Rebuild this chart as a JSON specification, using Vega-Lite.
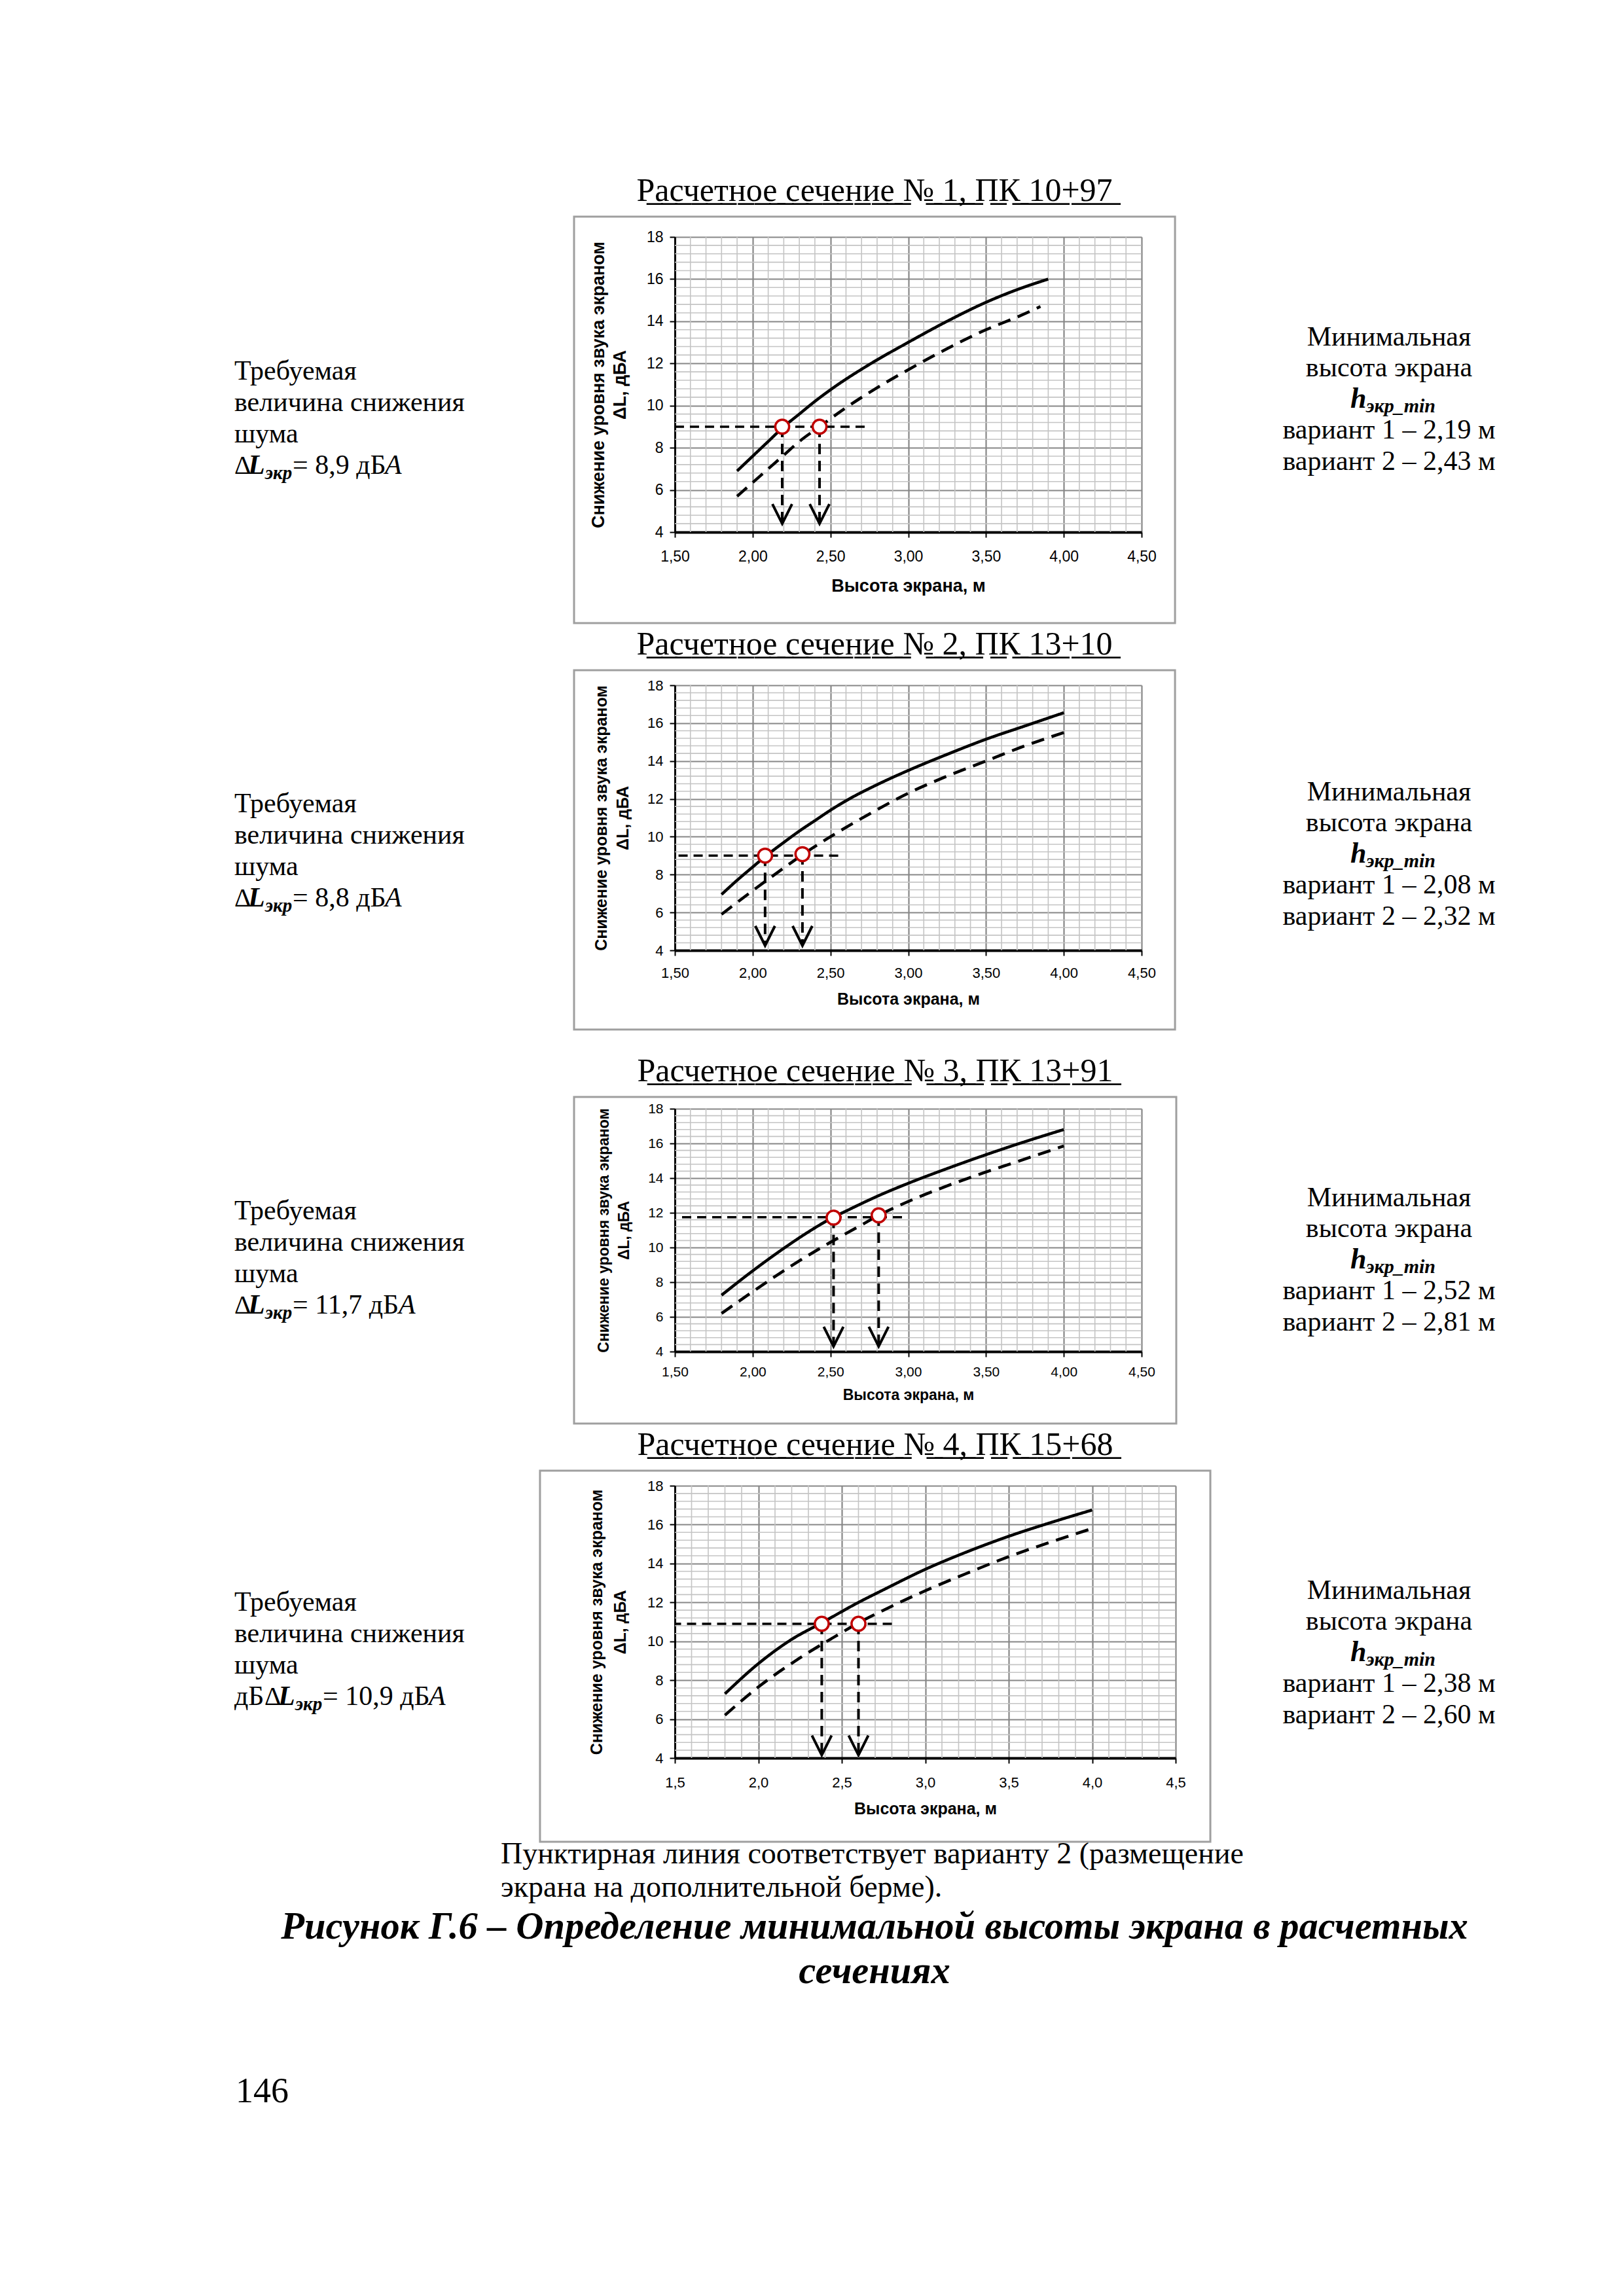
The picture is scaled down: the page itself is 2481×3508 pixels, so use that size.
{
  "$schema": "https://vega.github.io/schema/vega-lite/v6.json",
  "background": "white",
  "padding": {"left": 358, "top": 266, "right": 0, "bottom": 0},
  "config": {"view": {"stroke": null}, "axis": {"labelOverlap": false, "labelBound": false, "labelFlush": false}},
  "datasets": {
    "gridX": [{"g":1.6},{"g":1.7},{"g":1.8},{"g":1.9},{"g":2.1},{"g":2.2},{"g":2.3},{"g":2.4},{"g":2.6},{"g":2.7},{"g":2.8},{"g":2.9},{"g":3.1},{"g":3.2},{"g":3.3},{"g":3.4},{"g":3.6},{"g":3.7},{"g":3.8},{"g":3.9},{"g":4.1},{"g":4.2},{"g":4.3},{"g":4.4}],
    "gridY": [{"g":4.4},{"g":4.8},{"g":5.2},{"g":5.6},{"g":6.4},{"g":6.8},{"g":7.2},{"g":7.6},{"g":8.4},{"g":8.8},{"g":9.2},{"g":9.6},{"g":10.4},{"g":10.8},{"g":11.2},{"g":11.6},{"g":12.4},{"g":12.8},{"g":13.2},{"g":13.6},{"g":14.4},{"g":14.8},{"g":15.2},{"g":15.6},{"g":16.4},{"g":16.8},{"g":17.2},{"g":17.6}],
    "curves": [
      {"sec":1,"variant":1,"h":1.9,"dL":6.9},{"sec":1,"variant":1,"h":2.0,"dL":7.6},{"sec":1,"variant":1,"h":2.1,"dL":8.3},{"sec":1,"variant":1,"h":2.2,"dL":9.0},{"sec":1,"variant":1,"h":2.3,"dL":9.6},{"sec":1,"variant":1,"h":2.4,"dL":10.2},{"sec":1,"variant":1,"h":2.5,"dL":10.75},{"sec":1,"variant":1,"h":2.75,"dL":11.95},{"sec":1,"variant":1,"h":3.0,"dL":13.0},{"sec":1,"variant":1,"h":3.25,"dL":14.0},{"sec":1,"variant":1,"h":3.5,"dL":14.9},{"sec":1,"variant":1,"h":3.7,"dL":15.5},{"sec":1,"variant":1,"h":3.9,"dL":16.0},
      {"sec":1,"variant":2,"h":1.9,"dL":5.7},{"sec":1,"variant":2,"h":2.0,"dL":6.35},{"sec":1,"variant":2,"h":2.1,"dL":7.0},{"sec":1,"variant":2,"h":2.2,"dL":7.65},{"sec":1,"variant":2,"h":2.3,"dL":8.3},{"sec":1,"variant":2,"h":2.43,"dL":9.0},{"sec":1,"variant":2,"h":2.6,"dL":9.9},{"sec":1,"variant":2,"h":2.8,"dL":10.85},{"sec":1,"variant":2,"h":3.0,"dL":11.7},{"sec":1,"variant":2,"h":3.25,"dL":12.7},{"sec":1,"variant":2,"h":3.5,"dL":13.6},{"sec":1,"variant":2,"h":3.7,"dL":14.2},{"sec":1,"variant":2,"h":3.85,"dL":14.7},
      {"sec":2,"variant":1,"h":1.8,"dL":6.95},{"sec":2,"variant":1,"h":1.9,"dL":7.7},{"sec":2,"variant":1,"h":2.0,"dL":8.4},{"sec":2,"variant":1,"h":2.08,"dL":8.95},{"sec":2,"variant":1,"h":2.2,"dL":9.7},{"sec":2,"variant":1,"h":2.3,"dL":10.3},{"sec":2,"variant":1,"h":2.4,"dL":10.85},{"sec":2,"variant":1,"h":2.5,"dL":11.4},{"sec":2,"variant":1,"h":2.6,"dL":11.9},{"sec":2,"variant":1,"h":2.8,"dL":12.75},{"sec":2,"variant":1,"h":3.0,"dL":13.5},{"sec":2,"variant":1,"h":3.25,"dL":14.35},{"sec":2,"variant":1,"h":3.5,"dL":15.15},{"sec":2,"variant":1,"h":3.75,"dL":15.85},{"sec":2,"variant":1,"h":4.0,"dL":16.55},
      {"sec":2,"variant":2,"h":1.8,"dL":5.9},{"sec":2,"variant":2,"h":2.0,"dL":7.15},{"sec":2,"variant":2,"h":2.2,"dL":8.35},{"sec":2,"variant":2,"h":2.32,"dL":9.05},{"sec":2,"variant":2,"h":2.5,"dL":10.0},{"sec":2,"variant":2,"h":2.75,"dL":11.2},{"sec":2,"variant":2,"h":3.0,"dL":12.3},{"sec":2,"variant":2,"h":3.25,"dL":13.2},{"sec":2,"variant":2,"h":3.5,"dL":14.0},{"sec":2,"variant":2,"h":3.75,"dL":14.8},{"sec":2,"variant":2,"h":4.0,"dL":15.5},
      {"sec":3,"variant":1,"h":1.8,"dL":7.25},{"sec":3,"variant":1,"h":2.0,"dL":8.65},{"sec":3,"variant":1,"h":2.2,"dL":9.95},{"sec":3,"variant":1,"h":2.35,"dL":10.85},{"sec":3,"variant":1,"h":2.52,"dL":11.75},{"sec":3,"variant":1,"h":2.6,"dL":12.1},{"sec":3,"variant":1,"h":2.8,"dL":12.95},{"sec":3,"variant":1,"h":3.0,"dL":13.7},{"sec":3,"variant":1,"h":3.25,"dL":14.55},{"sec":3,"variant":1,"h":3.5,"dL":15.35},{"sec":3,"variant":1,"h":3.75,"dL":16.1},{"sec":3,"variant":1,"h":4.0,"dL":16.8},
      {"sec":3,"variant":2,"h":1.8,"dL":6.2},{"sec":3,"variant":2,"h":2.0,"dL":7.45},{"sec":3,"variant":2,"h":2.25,"dL":8.95},{"sec":3,"variant":2,"h":2.5,"dL":10.3},{"sec":3,"variant":2,"h":2.7,"dL":11.3},{"sec":3,"variant":2,"h":2.81,"dL":11.85},{"sec":3,"variant":2,"h":3.0,"dL":12.65},{"sec":3,"variant":2,"h":3.25,"dL":13.55},{"sec":3,"variant":2,"h":3.5,"dL":14.35},{"sec":3,"variant":2,"h":3.75,"dL":15.1},{"sec":3,"variant":2,"h":4.0,"dL":15.85},
      {"sec":4,"variant":1,"h":1.8,"dL":7.3},{"sec":4,"variant":1,"h":2.0,"dL":8.85},{"sec":4,"variant":1,"h":2.2,"dL":10.1},{"sec":4,"variant":1,"h":2.38,"dL":10.95},{"sec":4,"variant":1,"h":2.6,"dL":12.0},{"sec":4,"variant":1,"h":2.75,"dL":12.65},{"sec":4,"variant":1,"h":3.0,"dL":13.7},{"sec":4,"variant":1,"h":3.25,"dL":14.6},{"sec":4,"variant":1,"h":3.5,"dL":15.4},{"sec":4,"variant":1,"h":3.75,"dL":16.1},{"sec":4,"variant":1,"h":4.0,"dL":16.75},
      {"sec":4,"variant":2,"h":1.8,"dL":6.2},{"sec":4,"variant":2,"h":2.0,"dL":7.65},{"sec":4,"variant":2,"h":2.25,"dL":9.15},{"sec":4,"variant":2,"h":2.5,"dL":10.45},{"sec":4,"variant":2,"h":2.6,"dL":10.95},{"sec":4,"variant":2,"h":2.75,"dL":11.6},{"sec":4,"variant":2,"h":3.0,"dL":12.6},{"sec":4,"variant":2,"h":3.25,"dL":13.5},{"sec":4,"variant":2,"h":3.5,"dL":14.35},{"sec":4,"variant":2,"h":3.75,"dL":15.1},{"sec":4,"variant":2,"h":4.0,"dL":15.8}
    ],
    "points": [
      {"sec":1,"variant":1,"h":2.19,"dL":9.0,"tip":4.4},{"sec":1,"variant":2,"h":2.43,"dL":9.0,"tip":4.4},
      {"sec":2,"variant":1,"h":2.08,"dL":9.0,"tip":4.25},{"sec":2,"variant":2,"h":2.32,"dL":9.08,"tip":4.25},
      {"sec":3,"variant":1,"h":2.52,"dL":11.72,"tip":4.3},{"sec":3,"variant":2,"h":2.81,"dL":11.85,"tip":4.3},
      {"sec":4,"variant":1,"h":2.38,"dL":10.9,"tip":4.15},{"sec":4,"variant":2,"h":2.6,"dL":10.9,"tip":4.15}
    ],
    "levels": [
      {"sec":1,"dL":9.0,"hEnd":2.72},{"sec":2,"dL":9.0,"hEnd":2.55},{"sec":3,"dL":11.75,"hEnd":2.96},{"sec":4,"dL":10.9,"hEnd":2.8}
    ],
    "leftText": [
      {"sec":1,"line":0,"text":"Требуемая"},{"sec":1,"line":1,"text":"величина снижения"},{"sec":1,"line":2,"text":"шума"},
      {"sec":2,"line":0,"text":"Требуемая"},{"sec":2,"line":1,"text":"величина снижения"},{"sec":2,"line":2,"text":"шума"},
      {"sec":3,"line":0,"text":"Требуемая"},{"sec":3,"line":1,"text":"величина снижения"},{"sec":3,"line":2,"text":"шума"},
      {"sec":4,"line":0,"text":"Требуемая"},{"sec":4,"line":1,"text":"величина снижения"},{"sec":4,"line":2,"text":"шума"}
    ],
    "leftFormula": [
      {"sec":1,"line":3,"piece":"delta","text":"Δ"},{"sec":1,"line":3,"piece":"L","text":"L"},{"sec":1,"line":3,"piece":"sub","text":"экр"},{"sec":1,"line":3,"piece":"val","text":"= 8,9 дБ"},{"sec":1,"line":3,"piece":"A","text":"А"},
      {"sec":2,"line":3,"piece":"delta","text":"Δ"},{"sec":2,"line":3,"piece":"L","text":"L"},{"sec":2,"line":3,"piece":"sub","text":"экр"},{"sec":2,"line":3,"piece":"val","text":"= 8,8 дБ"},{"sec":2,"line":3,"piece":"A","text":"А"},
      {"sec":3,"line":3,"piece":"delta","text":"Δ"},{"sec":3,"line":3,"piece":"L","text":"L"},{"sec":3,"line":3,"piece":"sub","text":"экр"},{"sec":3,"line":3,"piece":"val","text":"= 11,7 дБ"},{"sec":3,"line":3,"piece":"A","text":"А"},
      {"sec":4,"line":3,"piece":"pre","text":"дБ"},{"sec":4,"line":3,"piece":"delta","text":"Δ"},{"sec":4,"line":3,"piece":"L","text":"L"},{"sec":4,"line":3,"piece":"sub","text":"экр"},{"sec":4,"line":3,"piece":"val","text":"= 10,9 дБ"},{"sec":4,"line":3,"piece":"A","text":"А"}
    ],
    "rightText": [
      {"sec":1,"line":0,"text":"Минимальная"},{"sec":1,"line":1,"text":"высота экрана"},{"sec":1,"line":3,"text":"вариант 1 – 2,19 м"},{"sec":1,"line":4,"text":"вариант 2 – 2,43 м"},
      {"sec":2,"line":0,"text":"Минимальная"},{"sec":2,"line":1,"text":"высота экрана"},{"sec":2,"line":3,"text":"вариант 1 – 2,08 м"},{"sec":2,"line":4,"text":"вариант 2 – 2,32 м"},
      {"sec":3,"line":0,"text":"Минимальная"},{"sec":3,"line":1,"text":"высота экрана"},{"sec":3,"line":3,"text":"вариант 1 – 2,52 м"},{"sec":3,"line":4,"text":"вариант 2 – 2,81 м"},
      {"sec":4,"line":0,"text":"Минимальная"},{"sec":4,"line":1,"text":"высота экрана"},{"sec":4,"line":3,"text":"вариант 1 – 2,38 м"},{"sec":4,"line":4,"text":"вариант 2 – 2,60 м"}
    ],
    "rightSymbol": [
      {"line":2,"piece":"h","text":"h"},{"line":2,"piece":"sub","text":"экр_min"}
    ],
    "notes": [
      {"id":"n1","text":"Пунктирная линия соответствует варианту 2 (размещение"},
      {"id":"n2","text":"экрана на дополнительной берме)."},
      {"id":"c1","text":"Рисунок Г.6 – Определение минимальной высоты экрана в расчетных"},
      {"id":"c2","text":"сечениях"},
      {"id":"p","text":"146"}
    ]
  },
  "columns": 3,
  "spacing": {"row": 0, "column": 173},
  "bounds": "flush",
  "align": "each",
  "concat": [
    {
      "width": 500, "height": 685,
      "encoding": {
        "x": {"datum": 0, "type": "quantitative", "scale": {"domain": [0, 1]}, "axis": null},
        "y": {"field": "line", "type": "quantitative", "scale": {"domain": [-4.5417, 9.7292], "reverse": true}, "axis": null},
        "text": {"field": "text"}
      },
      "layer": [
        {"data": {"name": "leftText"}, "transform": [{"filter": "datum.sec == 1"}], "mark": {"type": "text", "align": "left", "baseline": "alphabetic", "font": "Liberation Serif", "fontSize": 42, "color": "black"}},
        {"data": {"name": "leftFormula"}, "transform": [{"filter": "datum.sec == 1 && datum.piece == 'delta'"}], "mark": {"type": "text", "align": "left", "baseline": "alphabetic", "font": "Liberation Serif", "fontSize": 40, "color": "black", "dx": 0}},
        {"data": {"name": "leftFormula"}, "transform": [{"filter": "datum.sec == 1 && datum.piece == 'L'"}], "mark": {"type": "text", "align": "left", "baseline": "alphabetic", "font": "Liberation Serif", "fontSize": 42, "fontStyle": "italic", "fontWeight": "bold", "color": "black", "dx": 21}},
        {"data": {"name": "leftFormula"}, "transform": [{"filter": "datum.sec == 1 && datum.piece == 'sub'"}], "mark": {"type": "text", "align": "left", "baseline": "alphabetic", "font": "Liberation Serif", "fontSize": 29, "fontStyle": "italic", "fontWeight": "bold", "color": "black", "dx": 47, "dy": 8}},
        {"data": {"name": "leftFormula"}, "transform": [{"filter": "datum.sec == 1 && datum.piece == 'val'"}], "mark": {"type": "text", "align": "left", "baseline": "alphabetic", "font": "Liberation Serif", "fontSize": 42, "color": "black", "dx": 89}},
        {"data": {"name": "leftFormula"}, "transform": [{"filter": "datum.sec == 1 && datum.piece == 'A'"}], "mark": {"type": "text", "align": "left", "baseline": "alphabetic", "font": "Liberation Serif", "fontSize": 42, "fontStyle": "italic", "color": "black", "dx": 230}}
      ]
    },
    {
      "width": 713, "height": 451,
      "title": {"text": "Р\u0332а\u0332с\u0332ч\u0332е\u0332т\u0332н\u0332о\u0332е\u0332 \u0332с\u0332е\u0332ч\u0332е\u0332н\u0332и\u0332е\u0332 \u0332№\u0332 \u03321\u0332,\u0332 \u0332П\u0332К\u0332 \u03321\u03320\u0332+\u03329\u03327\u0332", "font": "Liberation Serif", "fontSize": 50, "fontWeight": "normal", "color": "black", "anchor": "middle", "frame": "bounds", "offset": -27, "baseline": "alphabetic"},
      "layer": [
        {"data": {"name": "gridX"}, "mark": {"type": "rule", "color": "#c4c4c4", "strokeWidth": 1.6},
         "encoding": {"x": {"field": "g", "type": "quantitative", "scale": {"domain": [1.5, 4.5]}}, "y": {"datum": 4, "type": "quantitative", "scale": {"domain": [4, 18]}}, "y2": {"datum": 18}}},
        {"data": {"name": "gridY"}, "mark": {"type": "rule", "color": "#c4c4c4", "strokeWidth": 1.6},
         "encoding": {"y": {"field": "g", "type": "quantitative", "scale": {"domain": [4, 18]}}, "x": {"datum": 1.5, "type": "quantitative", "scale": {"domain": [1.5, 4.5]}}, "x2": {"datum": 4.5}}},
        {"data": {"name": "curves"}, "transform": [{"filter": "datum.sec == 1"}],
         "mark": {"type": "line", "interpolate": "monotone", "color": "black", "strokeWidth": 4.5},
         "encoding": {
           "x": {"field": "h", "type": "quantitative", "scale": {"domain": [1.5, 4.5]},
             "axis": {"orient": "bottom", "values": [1.5, 2, 2.5, 3, 3.5, 4, 4.5],
               "grid": true, "gridColor": "#878787", "gridWidth": 2.2,
               "domain": true, "domainColor": "black", "domainWidth": 4,
               "ticks": true, "tickColor": "black", "tickWidth": 2, "tickSize": 8,
               "labelExpr": "replace(format(datum.value,'.2f'),'.',',')",
               "labelFontSize": 23, "labelFont": "Liberation Sans Narrow, Liberation Sans, sans-serif", "labelColor": "black", "labelPadding": 18, "labelOverlap": false, "labelFlush": false, "labelBound": false,
               "title": "Высота экрана, м", "titleFont": "Liberation Sans Narrow, Liberation Sans, sans-serif", "titleFontSize": 27, "titleFontWeight": "bold", "titleColor": "black", "titlePadding": 20}},
           "y": {"field": "dL", "type": "quantitative", "scale": {"domain": [4, 18]},
             "axis": {"orient": "left", "values": [4, 6, 8, 10, 12, 14, 16, 18],
               "grid": true, "gridColor": "#878787", "gridWidth": 2.2,
               "gridOpacity": {"condition": {"test": "datum.value < 4.1", "value": 0}, "value": 1},
               "domain": true, "domainColor": "black", "domainWidth": 3,
               "ticks": true, "tickColor": "black", "tickWidth": 2, "tickSize": 8,
               "labelFontSize": 23, "labelFont": "Liberation Sans Narrow, Liberation Sans, sans-serif", "labelColor": "black", "labelPadding": 10, "labelOverlap": false, "labelFlush": false, "labelBound": false,
               "title": ["Снижение уровня звука экраном", "ΔL, дБА"], "titleFont": "Liberation Sans Narrow, Liberation Sans, sans-serif", "titleFontSize": 27, "titleFontWeight": "bold", "titleColor": "black", "titlePadding": 26, "titleLineHeight": 33}},
           "detail": {"field": "variant"},
           "strokeDash": {"field": "variant", "type": "nominal", "scale": {"domain": [1, 2], "range": [[1, 0], [20, 12]]}, "legend": null}
         }},
        {"data": {"values": [{}]}, "mark": {"type": "rect", "fill": "white", "fillOpacity": 0, "stroke": "#9f9f9f", "strokeWidth": 3},
         "encoding": {"x": {"datum": 0.852, "type": "quantitative", "scale": {"domain": [1.5, 4.5]}}, "x2": {"datum": 4.715}, "y": {"datum": 18.962, "type": "quantitative", "scale": {"domain": [4, 18]}}, "y2": {"datum": -0.316}}},
        {"data": {"name": "levels"}, "transform": [{"filter": "datum.sec == 1"}], "mark": {"type": "rule", "color": "black", "strokeWidth": 3.5, "strokeDash": [14, 9]},
         "encoding": {"x": {"field": "hEnd", "type": "quantitative", "scale": {"domain": [1.5, 4.5]}}, "x2": {"datum": 1.5}, "y": {"field": "dL", "type": "quantitative", "scale": {"domain": [4, 18]}}}},
        {"data": {"name": "points"}, "transform": [{"filter": "datum.sec == 1"}], "mark": {"type": "rule", "color": "black", "strokeWidth": 4, "strokeDash": [16, 10]},
         "encoding": {"x": {"field": "h", "type": "quantitative", "scale": {"domain": [1.5, 4.5]}}, "y": {"field": "dL", "type": "quantitative", "scale": {"domain": [4, 18]}}, "y2": {"field": "tip"}}},
        {"data": {"name": "points"}, "transform": [{"filter": "datum.sec == 1"}], "mark": {"type": "point", "shape": "M-1,-2L0,0L1,-2", "size": 900, "filled": false, "color": "black", "stroke": "black", "strokeWidth": 4, "opacity": 1},
         "encoding": {"x": {"field": "h", "type": "quantitative", "scale": {"domain": [1.5, 4.5]}}, "y": {"field": "tip", "type": "quantitative", "scale": {"domain": [4, 18]}}}},
        {"data": {"name": "points"}, "transform": [{"filter": "datum.sec == 1"}], "mark": {"type": "point", "shape": "circle", "size": 450, "filled": true, "fill": "white", "stroke": "#c00000", "strokeWidth": 3.5, "opacity": 1},
         "encoding": {"x": {"field": "h", "type": "quantitative", "scale": {"domain": [1.5, 4.5]}}, "y": {"field": "dL", "type": "quantitative", "scale": {"domain": [4, 18]}}}}
      ]
    },
    {
      "width": 306, "height": 685,
      "encoding": {
        "x": {"datum": 0.5, "type": "quantitative", "scale": {"domain": [0, 1]}, "axis": null},
        "y": {"field": "line", "type": "quantitative", "scale": {"domain": [-3.4863, 10.9347], "reverse": true}, "axis": null},
        "text": {"field": "text"}
      },
      "layer": [
        {"data": {"name": "rightText"}, "transform": [{"filter": "datum.sec == 1"}], "mark": {"type": "text", "align": "center", "baseline": "alphabetic", "font": "Liberation Serif", "fontSize": 42, "color": "black"}},
        {"data": {"name": "rightSymbol"}, "transform": [{"filter": "datum.piece == 'h'"}], "mark": {"type": "text", "align": "left", "baseline": "alphabetic", "font": "Liberation Serif", "fontSize": 44, "fontStyle": "italic", "fontWeight": "bold", "color": "black", "dx": -59}},
        {"data": {"name": "rightSymbol"}, "transform": [{"filter": "datum.piece == 'sub'"}], "mark": {"type": "text", "align": "left", "baseline": "alphabetic", "font": "Liberation Serif", "fontSize": 30, "fontStyle": "italic", "fontWeight": "bold", "color": "black", "dx": -35, "dy": 7}}
      ]
    },
    {
      "width": 500, "height": 647,
      "encoding": {
        "x": {"datum": 0, "type": "quantitative", "scale": {"domain": [0, 1]}, "axis": null},
        "y": {"field": "line", "type": "quantitative", "scale": {"domain": [-4.0417, 9.4375], "reverse": true}, "axis": null},
        "text": {"field": "text"}
      },
      "layer": [
        {"data": {"name": "leftText"}, "transform": [{"filter": "datum.sec == 2"}], "mark": {"type": "text", "align": "left", "baseline": "alphabetic", "font": "Liberation Serif", "fontSize": 42, "color": "black"}},
        {"data": {"name": "leftFormula"}, "transform": [{"filter": "datum.sec == 2 && datum.piece == 'delta'"}], "mark": {"type": "text", "align": "left", "baseline": "alphabetic", "font": "Liberation Serif", "fontSize": 40, "color": "black", "dx": 0}},
        {"data": {"name": "leftFormula"}, "transform": [{"filter": "datum.sec == 2 && datum.piece == 'L'"}], "mark": {"type": "text", "align": "left", "baseline": "alphabetic", "font": "Liberation Serif", "fontSize": 42, "fontStyle": "italic", "fontWeight": "bold", "color": "black", "dx": 21}},
        {"data": {"name": "leftFormula"}, "transform": [{"filter": "datum.sec == 2 && datum.piece == 'sub'"}], "mark": {"type": "text", "align": "left", "baseline": "alphabetic", "font": "Liberation Serif", "fontSize": 29, "fontStyle": "italic", "fontWeight": "bold", "color": "black", "dx": 47, "dy": 8}},
        {"data": {"name": "leftFormula"}, "transform": [{"filter": "datum.sec == 2 && datum.piece == 'val'"}], "mark": {"type": "text", "align": "left", "baseline": "alphabetic", "font": "Liberation Serif", "fontSize": 42, "color": "black", "dx": 89}},
        {"data": {"name": "leftFormula"}, "transform": [{"filter": "datum.sec == 2 && datum.piece == 'A'"}], "mark": {"type": "text", "align": "left", "baseline": "alphabetic", "font": "Liberation Serif", "fontSize": 42, "fontStyle": "italic", "color": "black", "dx": 230}}
      ]
    },
    {
      "width": 713, "height": 405,
      "title": {"text": "Р\u0332а\u0332с\u0332ч\u0332е\u0332т\u0332н\u0332о\u0332е\u0332 \u0332с\u0332е\u0332ч\u0332е\u0332н\u0332и\u0332е\u0332 \u0332№\u0332 \u03322\u0332,\u0332 \u0332П\u0332К\u0332 \u03321\u03323\u0332+\u03321\u03320\u0332", "font": "Liberation Serif", "fontSize": 50, "fontWeight": "normal", "color": "black", "anchor": "middle", "frame": "bounds", "offset": -27, "baseline": "alphabetic"},
      "layer": [
        {"data": {"name": "gridX"}, "mark": {"type": "rule", "color": "#c4c4c4", "strokeWidth": 1.6},
         "encoding": {"x": {"field": "g", "type": "quantitative", "scale": {"domain": [1.5, 4.5]}}, "y": {"datum": 4, "type": "quantitative", "scale": {"domain": [4, 18]}}, "y2": {"datum": 18}}},
        {"data": {"name": "gridY"}, "mark": {"type": "rule", "color": "#c4c4c4", "strokeWidth": 1.6},
         "encoding": {"y": {"field": "g", "type": "quantitative", "scale": {"domain": [4, 18]}}, "x": {"datum": 1.5, "type": "quantitative", "scale": {"domain": [1.5, 4.5]}}, "x2": {"datum": 4.5}}},
        {"data": {"name": "curves"}, "transform": [{"filter": "datum.sec == 2"}],
         "mark": {"type": "line", "interpolate": "monotone", "color": "black", "strokeWidth": 4.5},
         "encoding": {
           "x": {"field": "h", "type": "quantitative", "scale": {"domain": [1.5, 4.5]},
             "axis": {"orient": "bottom", "values": [1.5, 2, 2.5, 3, 3.5, 4, 4.5],
               "grid": true, "gridColor": "#878787", "gridWidth": 2.2,
               "domain": true, "domainColor": "black", "domainWidth": 4,
               "ticks": true, "tickColor": "black", "tickWidth": 2, "tickSize": 8,
               "labelExpr": "replace(format(datum.value,'.2f'),'.',',')",
               "labelFontSize": 22, "labelFont": "Liberation Sans Narrow, Liberation Sans, sans-serif", "labelColor": "black", "labelPadding": 16, "labelOverlap": false, "labelFlush": false, "labelBound": false,
               "title": "Высота экрана, м", "titleFont": "Liberation Sans Narrow, Liberation Sans, sans-serif", "titleFontSize": 25, "titleFontWeight": "bold", "titleColor": "black", "titlePadding": 17}},
           "y": {"field": "dL", "type": "quantitative", "scale": {"domain": [4, 18]},
             "axis": {"orient": "left", "values": [4, 6, 8, 10, 12, 14, 16, 18],
               "grid": true, "gridColor": "#878787", "gridWidth": 2.2,
               "gridOpacity": {"condition": {"test": "datum.value < 4.1", "value": 0}, "value": 1},
               "domain": true, "domainColor": "black", "domainWidth": 3,
               "ticks": true, "tickColor": "black", "tickWidth": 2, "tickSize": 8,
               "labelFontSize": 22, "labelFont": "Liberation Sans Narrow, Liberation Sans, sans-serif", "labelColor": "black", "labelPadding": 10, "labelOverlap": false, "labelFlush": false, "labelBound": false,
               "title": ["Снижение уровня звука экраном", "ΔL, дБА"], "titleFont": "Liberation Sans Narrow, Liberation Sans, sans-serif", "titleFontSize": 25, "titleFontWeight": "bold", "titleColor": "black", "titlePadding": 24, "titleLineHeight": 33}},
           "detail": {"field": "variant"},
           "strokeDash": {"field": "variant", "type": "nominal", "scale": {"domain": [1, 2], "range": [[1, 0], [20, 12]]}, "legend": null}
         }},
        {"data": {"values": [{}]}, "mark": {"type": "rect", "fill": "white", "fillOpacity": 0, "stroke": "#9f9f9f", "strokeWidth": 3},
         "encoding": {"x": {"datum": 0.852, "type": "quantitative", "scale": {"domain": [1.5, 4.5]}}, "x2": {"datum": 4.715}, "y": {"datum": 18.795, "type": "quantitative", "scale": {"domain": [4, 18]}}, "y2": {"datum": -0.183}}},
        {"data": {"name": "levels"}, "transform": [{"filter": "datum.sec == 2"}], "mark": {"type": "rule", "color": "black", "strokeWidth": 3.5, "strokeDash": [14, 9]},
         "encoding": {"x": {"field": "hEnd", "type": "quantitative", "scale": {"domain": [1.5, 4.5]}}, "x2": {"datum": 1.5}, "y": {"field": "dL", "type": "quantitative", "scale": {"domain": [4, 18]}}}},
        {"data": {"name": "points"}, "transform": [{"filter": "datum.sec == 2"}], "mark": {"type": "rule", "color": "black", "strokeWidth": 4, "strokeDash": [16, 10]},
         "encoding": {"x": {"field": "h", "type": "quantitative", "scale": {"domain": [1.5, 4.5]}}, "y": {"field": "dL", "type": "quantitative", "scale": {"domain": [4, 18]}}, "y2": {"field": "tip"}}},
        {"data": {"name": "points"}, "transform": [{"filter": "datum.sec == 2"}], "mark": {"type": "point", "shape": "M-1,-2L0,0L1,-2", "size": 900, "filled": false, "color": "black", "stroke": "black", "strokeWidth": 4, "opacity": 1},
         "encoding": {"x": {"field": "h", "type": "quantitative", "scale": {"domain": [1.5, 4.5]}}, "y": {"field": "tip", "type": "quantitative", "scale": {"domain": [4, 18]}}}},
        {"data": {"name": "points"}, "transform": [{"filter": "datum.sec == 2"}], "mark": {"type": "point", "shape": "circle", "size": 450, "filled": true, "fill": "white", "stroke": "#c00000", "strokeWidth": 3.5, "opacity": 1},
         "encoding": {"x": {"field": "h", "type": "quantitative", "scale": {"domain": [1.5, 4.5]}}, "y": {"field": "dL", "type": "quantitative", "scale": {"domain": [4, 18]}}}}
      ]
    },
    {
      "width": 306, "height": 647,
      "encoding": {
        "x": {"datum": 0.5, "type": "quantitative", "scale": {"domain": [0, 1]}, "axis": null},
        "y": {"field": "line", "type": "quantitative", "scale": {"domain": [-3.6968, 9.9242], "reverse": true}, "axis": null},
        "text": {"field": "text"}
      },
      "layer": [
        {"data": {"name": "rightText"}, "transform": [{"filter": "datum.sec == 2"}], "mark": {"type": "text", "align": "center", "baseline": "alphabetic", "font": "Liberation Serif", "fontSize": 42, "color": "black"}},
        {"data": {"name": "rightSymbol"}, "transform": [{"filter": "datum.piece == 'h'"}], "mark": {"type": "text", "align": "left", "baseline": "alphabetic", "font": "Liberation Serif", "fontSize": 44, "fontStyle": "italic", "fontWeight": "bold", "color": "black", "dx": -59}},
        {"data": {"name": "rightSymbol"}, "transform": [{"filter": "datum.piece == 'sub'"}], "mark": {"type": "text", "align": "left", "baseline": "alphabetic", "font": "Liberation Serif", "fontSize": 30, "fontStyle": "italic", "fontWeight": "bold", "color": "black", "dx": -35, "dy": 7}}
      ]
    },
    {
      "width": 500, "height": 576,
      "encoding": {
        "x": {"datum": 0, "type": "quantitative", "scale": {"domain": [0, 1]}, "axis": null},
        "y": {"field": "line", "type": "quantitative", "scale": {"domain": [-3.5208, 8.4792], "reverse": true}, "axis": null},
        "text": {"field": "text"}
      },
      "layer": [
        {"data": {"name": "leftText"}, "transform": [{"filter": "datum.sec == 3"}], "mark": {"type": "text", "align": "left", "baseline": "alphabetic", "font": "Liberation Serif", "fontSize": 42, "color": "black"}},
        {"data": {"name": "leftFormula"}, "transform": [{"filter": "datum.sec == 3 && datum.piece == 'delta'"}], "mark": {"type": "text", "align": "left", "baseline": "alphabetic", "font": "Liberation Serif", "fontSize": 40, "color": "black", "dx": 0}},
        {"data": {"name": "leftFormula"}, "transform": [{"filter": "datum.sec == 3 && datum.piece == 'L'"}], "mark": {"type": "text", "align": "left", "baseline": "alphabetic", "font": "Liberation Serif", "fontSize": 42, "fontStyle": "italic", "fontWeight": "bold", "color": "black", "dx": 21}},
        {"data": {"name": "leftFormula"}, "transform": [{"filter": "datum.sec == 3 && datum.piece == 'sub'"}], "mark": {"type": "text", "align": "left", "baseline": "alphabetic", "font": "Liberation Serif", "fontSize": 29, "fontStyle": "italic", "fontWeight": "bold", "color": "black", "dx": 47, "dy": 8}},
        {"data": {"name": "leftFormula"}, "transform": [{"filter": "datum.sec == 3 && datum.piece == 'val'"}], "mark": {"type": "text", "align": "left", "baseline": "alphabetic", "font": "Liberation Serif", "fontSize": 42, "color": "black", "dx": 89}},
        {"data": {"name": "leftFormula"}, "transform": [{"filter": "datum.sec == 3 && datum.piece == 'A'"}], "mark": {"type": "text", "align": "left", "baseline": "alphabetic", "font": "Liberation Serif", "fontSize": 42, "fontStyle": "italic", "color": "black", "dx": 251}}
      ]
    },
    {
      "width": 713, "height": 371,
      "title": {"text": "Р\u0332а\u0332с\u0332ч\u0332е\u0332т\u0332н\u0332о\u0332е\u0332 \u0332с\u0332е\u0332ч\u0332е\u0332н\u0332и\u0332е\u0332 \u0332№\u0332 \u03323\u0332,\u0332 \u0332П\u0332К\u0332 \u03321\u03323\u0332+\u03329\u03321\u0332", "font": "Liberation Serif", "fontSize": 50, "fontWeight": "normal", "color": "black", "anchor": "middle", "frame": "bounds", "offset": -27, "baseline": "alphabetic"},
      "layer": [
        {"data": {"name": "gridX"}, "mark": {"type": "rule", "color": "#c4c4c4", "strokeWidth": 1.6},
         "encoding": {"x": {"field": "g", "type": "quantitative", "scale": {"domain": [1.5, 4.5]}}, "y": {"datum": 4, "type": "quantitative", "scale": {"domain": [4, 18]}}, "y2": {"datum": 18}}},
        {"data": {"name": "gridY"}, "mark": {"type": "rule", "color": "#c4c4c4", "strokeWidth": 1.6},
         "encoding": {"y": {"field": "g", "type": "quantitative", "scale": {"domain": [4, 18]}}, "x": {"datum": 1.5, "type": "quantitative", "scale": {"domain": [1.5, 4.5]}}, "x2": {"datum": 4.5}}},
        {"data": {"name": "curves"}, "transform": [{"filter": "datum.sec == 3"}],
         "mark": {"type": "line", "interpolate": "monotone", "color": "black", "strokeWidth": 4.5},
         "encoding": {
           "x": {"field": "h", "type": "quantitative", "scale": {"domain": [1.5, 4.5]},
             "axis": {"orient": "bottom", "values": [1.5, 2, 2.5, 3, 3.5, 4, 4.5],
               "grid": true, "gridColor": "#878787", "gridWidth": 2.2,
               "domain": true, "domainColor": "black", "domainWidth": 4,
               "ticks": true, "tickColor": "black", "tickWidth": 2, "tickSize": 8,
               "labelExpr": "replace(format(datum.value,'.2f'),'.',',')",
               "labelFontSize": 21, "labelFont": "Liberation Sans Narrow, Liberation Sans, sans-serif", "labelColor": "black", "labelPadding": 12, "labelOverlap": false, "labelFlush": false, "labelBound": false,
               "title": "Высота экрана, м", "titleFont": "Liberation Sans Narrow, Liberation Sans, sans-serif", "titleFontSize": 23, "titleFontWeight": "bold", "titleColor": "black", "titlePadding": 14}},
           "y": {"field": "dL", "type": "quantitative", "scale": {"domain": [4, 18]},
             "axis": {"orient": "left", "values": [4, 6, 8, 10, 12, 14, 16, 18],
               "grid": true, "gridColor": "#878787", "gridWidth": 2.2,
               "gridOpacity": {"condition": {"test": "datum.value < 4.1", "value": 0}, "value": 1},
               "domain": true, "domainColor": "black", "domainWidth": 3,
               "ticks": true, "tickColor": "black", "tickWidth": 2, "tickSize": 8,
               "labelFontSize": 21, "labelFont": "Liberation Sans Narrow, Liberation Sans, sans-serif", "labelColor": "black", "labelPadding": 10, "labelOverlap": false, "labelFlush": false, "labelBound": false,
               "title": ["Снижение уровня звука экраном", "ΔL, дБА"], "titleFont": "Liberation Sans Narrow, Liberation Sans, sans-serif", "titleFontSize": 23, "titleFontWeight": "bold", "titleColor": "black", "titlePadding": 24, "titleLineHeight": 31}},
           "detail": {"field": "variant"},
           "strokeDash": {"field": "variant", "type": "nominal", "scale": {"domain": [1, 2], "range": [[1, 0], [20, 12]]}, "legend": null}
         }},
        {"data": {"values": [{}]}, "mark": {"type": "rect", "fill": "white", "fillOpacity": 0, "stroke": "#9f9f9f", "strokeWidth": 3},
         "encoding": {"x": {"datum": 0.852, "type": "quantitative", "scale": {"domain": [1.5, 4.5]}}, "x2": {"datum": 4.723}, "y": {"datum": 18.679, "type": "quantitative", "scale": {"domain": [4, 18]}}, "y2": {"datum": -0.151}}},
        {"data": {"name": "levels"}, "transform": [{"filter": "datum.sec == 3"}], "mark": {"type": "rule", "color": "black", "strokeWidth": 3.5, "strokeDash": [14, 9]},
         "encoding": {"x": {"field": "hEnd", "type": "quantitative", "scale": {"domain": [1.5, 4.5]}}, "x2": {"datum": 1.5}, "y": {"field": "dL", "type": "quantitative", "scale": {"domain": [4, 18]}}}},
        {"data": {"name": "points"}, "transform": [{"filter": "datum.sec == 3"}], "mark": {"type": "rule", "color": "black", "strokeWidth": 4, "strokeDash": [16, 10]},
         "encoding": {"x": {"field": "h", "type": "quantitative", "scale": {"domain": [1.5, 4.5]}}, "y": {"field": "dL", "type": "quantitative", "scale": {"domain": [4, 18]}}, "y2": {"field": "tip"}}},
        {"data": {"name": "points"}, "transform": [{"filter": "datum.sec == 3"}], "mark": {"type": "point", "shape": "M-1,-2L0,0L1,-2", "size": 900, "filled": false, "color": "black", "stroke": "black", "strokeWidth": 4, "opacity": 1},
         "encoding": {"x": {"field": "h", "type": "quantitative", "scale": {"domain": [1.5, 4.5]}}, "y": {"field": "tip", "type": "quantitative", "scale": {"domain": [4, 18]}}}},
        {"data": {"name": "points"}, "transform": [{"filter": "datum.sec == 3"}], "mark": {"type": "point", "shape": "circle", "size": 450, "filled": true, "fill": "white", "stroke": "#c00000", "strokeWidth": 3.5, "opacity": 1},
         "encoding": {"x": {"field": "h", "type": "quantitative", "scale": {"domain": [1.5, 4.5]}}, "y": {"field": "dL", "type": "quantitative", "scale": {"domain": [4, 18]}}}}
      ]
    },
    {
      "width": 306, "height": 576,
      "encoding": {
        "x": {"datum": 0.5, "type": "quantitative", "scale": {"domain": [0, 1]}, "axis": null},
        "y": {"field": "line", "type": "quantitative", "scale": {"domain": [-3.1284, 8.9979], "reverse": true}, "axis": null},
        "text": {"field": "text"}
      },
      "layer": [
        {"data": {"name": "rightText"}, "transform": [{"filter": "datum.sec == 3"}], "mark": {"type": "text", "align": "center", "baseline": "alphabetic", "font": "Liberation Serif", "fontSize": 42, "color": "black"}},
        {"data": {"name": "rightSymbol"}, "transform": [{"filter": "datum.piece == 'h'"}], "mark": {"type": "text", "align": "left", "baseline": "alphabetic", "font": "Liberation Serif", "fontSize": 44, "fontStyle": "italic", "fontWeight": "bold", "color": "black", "dx": -59}},
        {"data": {"name": "rightSymbol"}, "transform": [{"filter": "datum.piece == 'sub'"}], "mark": {"type": "text", "align": "left", "baseline": "alphabetic", "font": "Liberation Serif", "fontSize": 30, "fontStyle": "italic", "fontWeight": "bold", "color": "black", "dx": -35, "dy": 7}}
      ]
    },
    {
      "width": 500, "height": 1020,
      "layer": [
        {"data": {"name": "leftText"}, "transform": [{"filter": "datum.sec == 4"}], "mark": {"type": "text", "align": "left", "baseline": "alphabetic", "font": "Liberation Serif", "fontSize": 42, "color": "black"},
         "encoding": {"x": {"datum": 0, "type": "quantitative", "scale": {"domain": [0, 1]}, "axis": null}, "y": {"field": "line", "type": "quantitative", "scale": {"domain": [-3.9792, 17.2708], "reverse": true}, "axis": null}, "text": {"field": "text"}}},
        {"data": {"name": "leftFormula"}, "transform": [{"filter": "datum.sec == 4 && datum.piece == 'pre'"}], "mark": {"type": "text", "align": "left", "baseline": "alphabetic", "font": "Liberation Serif", "fontSize": 42, "color": "black", "dx": 0},
         "encoding": {"x": {"datum": 0, "type": "quantitative", "scale": {"domain": [0, 1]}, "axis": null}, "y": {"field": "line", "type": "quantitative", "scale": {"domain": [-3.9792, 17.2708], "reverse": true}, "axis": null}, "text": {"field": "text"}}},
        {"data": {"name": "leftFormula"}, "transform": [{"filter": "datum.sec == 4 && datum.piece == 'delta'"}], "mark": {"type": "text", "align": "left", "baseline": "alphabetic", "font": "Liberation Serif", "fontSize": 40, "color": "black", "dx": 46},
         "encoding": {"x": {"datum": 0, "type": "quantitative", "scale": {"domain": [0, 1]}, "axis": null}, "y": {"field": "line", "type": "quantitative", "scale": {"domain": [-3.9792, 17.2708], "reverse": true}, "axis": null}, "text": {"field": "text"}}},
        {"data": {"name": "leftFormula"}, "transform": [{"filter": "datum.sec == 4 && datum.piece == 'L'"}], "mark": {"type": "text", "align": "left", "baseline": "alphabetic", "font": "Liberation Serif", "fontSize": 42, "fontStyle": "italic", "fontWeight": "bold", "color": "black", "dx": 67},
         "encoding": {"x": {"datum": 0, "type": "quantitative", "scale": {"domain": [0, 1]}, "axis": null}, "y": {"field": "line", "type": "quantitative", "scale": {"domain": [-3.9792, 17.2708], "reverse": true}, "axis": null}, "text": {"field": "text"}}},
        {"data": {"name": "leftFormula"}, "transform": [{"filter": "datum.sec == 4 && datum.piece == 'sub'"}], "mark": {"type": "text", "align": "left", "baseline": "alphabetic", "font": "Liberation Serif", "fontSize": 29, "fontStyle": "italic", "fontWeight": "bold", "color": "black", "dx": 93, "dy": 8},
         "encoding": {"x": {"datum": 0, "type": "quantitative", "scale": {"domain": [0, 1]}, "axis": null}, "y": {"field": "line", "type": "quantitative", "scale": {"domain": [-3.9792, 17.2708], "reverse": true}, "axis": null}, "text": {"field": "text"}}},
        {"data": {"name": "leftFormula"}, "transform": [{"filter": "datum.sec == 4 && datum.piece == 'val'"}], "mark": {"type": "text", "align": "left", "baseline": "alphabetic", "font": "Liberation Serif", "fontSize": 42, "color": "black", "dx": 135},
         "encoding": {"x": {"datum": 0, "type": "quantitative", "scale": {"domain": [0, 1]}, "axis": null}, "y": {"field": "line", "type": "quantitative", "scale": {"domain": [-3.9792, 17.2708], "reverse": true}, "axis": null}, "text": {"field": "text"}}},
        {"data": {"name": "leftFormula"}, "transform": [{"filter": "datum.sec == 4 && datum.piece == 'A'"}], "mark": {"type": "text", "align": "left", "baseline": "alphabetic", "font": "Liberation Serif", "fontSize": 42, "fontStyle": "italic", "color": "black", "dx": 297},
         "encoding": {"x": {"datum": 0, "type": "quantitative", "scale": {"domain": [0, 1]}, "axis": null}, "y": {"field": "line", "type": "quantitative", "scale": {"domain": [-3.9792, 17.2708], "reverse": true}, "axis": null}, "text": {"field": "text"}}},
        {"data": {"name": "notes"}, "transform": [{"filter": "datum.id == 'n1'"}], "mark": {"type": "text", "align": "left", "baseline": "alphabetic", "font": "Liberation Serif", "fontSize": 46, "color": "black"},
         "encoding": {"x": {"datum": 0.814, "type": "quantitative", "scale": {"domain": [0, 1]}, "axis": null}, "y": {"datum": 8.05, "type": "quantitative", "scale": {"domain": [-3.9792, 17.2708], "reverse": true}, "axis": null}, "text": {"field": "text"}}},
        {"data": {"name": "notes"}, "transform": [{"filter": "datum.id == 'n2'"}], "mark": {"type": "text", "align": "left", "baseline": "alphabetic", "font": "Liberation Serif", "fontSize": 46, "color": "black"},
         "encoding": {"x": {"datum": 0.814, "type": "quantitative", "scale": {"domain": [0, 1]}, "axis": null}, "y": {"datum": 9.1, "type": "quantitative", "scale": {"domain": [-3.9792, 17.2708], "reverse": true}, "axis": null}, "text": {"field": "text"}}},
        {"data": {"name": "notes"}, "transform": [{"filter": "datum.id == 'c1'"}], "mark": {"type": "text", "align": "center", "baseline": "alphabetic", "font": "Liberation Serif", "fontSize": 58.5, "fontStyle": "italic", "fontWeight": "bold", "color": "black"},
         "encoding": {"x": {"datum": 1.956, "type": "quantitative", "scale": {"domain": [0, 1]}, "axis": null}, "y": {"datum": 10.43, "type": "quantitative", "scale": {"domain": [-3.9792, 17.2708], "reverse": true}, "axis": null}, "text": {"field": "text"}}},
        {"data": {"name": "notes"}, "transform": [{"filter": "datum.id == 'c2'"}], "mark": {"type": "text", "align": "center", "baseline": "alphabetic", "font": "Liberation Serif", "fontSize": 58.5, "fontStyle": "italic", "fontWeight": "bold", "color": "black"},
         "encoding": {"x": {"datum": 1.956, "type": "quantitative", "scale": {"domain": [0, 1]}, "axis": null}, "y": {"datum": 11.85, "type": "quantitative", "scale": {"domain": [-3.9792, 17.2708], "reverse": true}, "axis": null}, "text": {"field": "text"}}},
        {"data": {"name": "notes"}, "transform": [{"filter": "datum.id == 'p'"}], "mark": {"type": "text", "align": "left", "baseline": "alphabetic", "font": "Liberation Serif", "fontSize": 54, "color": "black"},
         "encoding": {"x": {"datum": 0.004, "type": "quantitative", "scale": {"domain": [0, 1]}, "axis": null}, "y": {"datum": 15.65, "type": "quantitative", "scale": {"domain": [-3.9792, 17.2708], "reverse": true}, "axis": null}, "text": {"field": "text"}}}
      ]
    },
    {
      "width": 765, "height": 416,
      "title": {"text": "Р\u0332а\u0332с\u0332ч\u0332е\u0332т\u0332н\u0332о\u0332е\u0332 \u0332с\u0332е\u0332ч\u0332е\u0332н\u0332и\u0332е\u0332 \u0332№\u0332 \u03324\u0332,\u0332 \u0332П\u0332К\u0332 \u03321\u03325\u0332+\u03326\u03328\u0332", "font": "Liberation Serif", "fontSize": 50, "fontWeight": "normal", "color": "black", "anchor": "middle", "frame": "bounds", "offset": -27, "baseline": "alphabetic"},
      "layer": [
        {"data": {"name": "gridX"}, "mark": {"type": "rule", "color": "#c4c4c4", "strokeWidth": 1.6},
         "encoding": {"x": {"field": "g", "type": "quantitative", "scale": {"domain": [1.5, 4.5]}}, "y": {"datum": 4, "type": "quantitative", "scale": {"domain": [4, 18]}}, "y2": {"datum": 18}}},
        {"data": {"name": "gridY"}, "mark": {"type": "rule", "color": "#c4c4c4", "strokeWidth": 1.6},
         "encoding": {"y": {"field": "g", "type": "quantitative", "scale": {"domain": [4, 18]}}, "x": {"datum": 1.5, "type": "quantitative", "scale": {"domain": [1.5, 4.5]}}, "x2": {"datum": 4.5}}},
        {"data": {"name": "curves"}, "transform": [{"filter": "datum.sec == 4"}],
         "mark": {"type": "line", "interpolate": "monotone", "color": "black", "strokeWidth": 4.5},
         "encoding": {
           "x": {"field": "h", "type": "quantitative", "scale": {"domain": [1.5, 4.5]},
             "axis": {"orient": "bottom", "values": [1.5, 2, 2.5, 3, 3.5, 4, 4.5],
               "grid": true, "gridColor": "#878787", "gridWidth": 2.2,
               "domain": true, "domainColor": "black", "domainWidth": 4,
               "ticks": true, "tickColor": "black", "tickWidth": 2, "tickSize": 8,
               "labelExpr": "replace(format(datum.value,'.1f'),'.',',')",
               "labelFontSize": 22, "labelFont": "Liberation Sans Narrow, Liberation Sans, sans-serif", "labelColor": "black", "labelPadding": 19, "labelOverlap": false, "labelFlush": false, "labelBound": false,
               "title": "Высота экрана, м", "titleFont": "Liberation Sans Narrow, Liberation Sans, sans-serif", "titleFontSize": 25, "titleFontWeight": "bold", "titleColor": "black", "titlePadding": 17}},
           "y": {"field": "dL", "type": "quantitative", "scale": {"domain": [4, 18]},
             "axis": {"orient": "left", "values": [4, 6, 8, 10, 12, 14, 16, 18],
               "grid": true, "gridColor": "#878787", "gridWidth": 2.2,
               "gridOpacity": {"condition": {"test": "datum.value < 4.1", "value": 0}, "value": 1},
               "domain": true, "domainColor": "black", "domainWidth": 3,
               "ticks": true, "tickColor": "black", "tickWidth": 2, "tickSize": 8,
               "labelFontSize": 22, "labelFont": "Liberation Sans Narrow, Liberation Sans, sans-serif", "labelColor": "black", "labelPadding": 10, "labelOverlap": false, "labelFlush": false, "labelBound": false,
               "title": ["Снижение уровня звука экраном", "ΔL, дБА"], "titleFont": "Liberation Sans Narrow, Liberation Sans, sans-serif", "titleFontSize": 25, "titleFontWeight": "bold", "titleColor": "black", "titlePadding": 28, "titleLineHeight": 36}},
           "detail": {"field": "variant"},
           "strokeDash": {"field": "variant", "type": "nominal", "scale": {"domain": [1, 2], "range": [[1, 0], [20, 12]]}, "legend": null}
         }},
        {"data": {"values": [{}]}, "mark": {"type": "rect", "fill": "white", "fillOpacity": 0, "stroke": "#9f9f9f", "strokeWidth": 3},
         "encoding": {"x": {"datum": 0.692, "type": "quantitative", "scale": {"domain": [1.5, 4.5]}}, "x2": {"datum": 4.708}, "y": {"datum": 18.774, "type": "quantitative", "scale": {"domain": [4, 18]}}, "y2": {"datum": -0.308}}},
        {"data": {"name": "levels"}, "transform": [{"filter": "datum.sec == 4"}], "mark": {"type": "rule", "color": "black", "strokeWidth": 3.5, "strokeDash": [14, 9]},
         "encoding": {"x": {"field": "hEnd", "type": "quantitative", "scale": {"domain": [1.5, 4.5]}}, "x2": {"datum": 1.5}, "y": {"field": "dL", "type": "quantitative", "scale": {"domain": [4, 18]}}}},
        {"data": {"name": "points"}, "transform": [{"filter": "datum.sec == 4"}], "mark": {"type": "rule", "color": "black", "strokeWidth": 4, "strokeDash": [16, 10]},
         "encoding": {"x": {"field": "h", "type": "quantitative", "scale": {"domain": [1.5, 4.5]}}, "y": {"field": "dL", "type": "quantitative", "scale": {"domain": [4, 18]}}, "y2": {"field": "tip"}}},
        {"data": {"name": "points"}, "transform": [{"filter": "datum.sec == 4"}], "mark": {"type": "point", "shape": "M-1,-2L0,0L1,-2", "size": 900, "filled": false, "color": "black", "stroke": "black", "strokeWidth": 4, "opacity": 1},
         "encoding": {"x": {"field": "h", "type": "quantitative", "scale": {"domain": [1.5, 4.5]}}, "y": {"field": "tip", "type": "quantitative", "scale": {"domain": [4, 18]}}}},
        {"data": {"name": "points"}, "transform": [{"filter": "datum.sec == 4"}], "mark": {"type": "point", "shape": "circle", "size": 450, "filled": true, "fill": "white", "stroke": "#c00000", "strokeWidth": 3.5, "opacity": 1},
         "encoding": {"x": {"field": "h", "type": "quantitative", "scale": {"domain": [1.5, 4.5]}}, "y": {"field": "dL", "type": "quantitative", "scale": {"domain": [4, 18]}}}}
      ]
    },
    {
      "width": 306, "height": 560,
      "encoding": {
        "x": {"datum": 0.5, "type": "quantitative", "scale": {"domain": [0, 1]}, "axis": null},
        "y": {"field": "line", "type": "quantitative", "scale": {"domain": [-3.6337, 8.1558], "reverse": true}, "axis": null},
        "text": {"field": "text"}
      },
      "layer": [
        {"data": {"name": "rightText"}, "transform": [{"filter": "datum.sec == 4"}], "mark": {"type": "text", "align": "center", "baseline": "alphabetic", "font": "Liberation Serif", "fontSize": 42, "color": "black"}},
        {"data": {"name": "rightSymbol"}, "transform": [{"filter": "datum.piece == 'h'"}], "mark": {"type": "text", "align": "left", "baseline": "alphabetic", "font": "Liberation Serif", "fontSize": 44, "fontStyle": "italic", "fontWeight": "bold", "color": "black", "dx": -59}},
        {"data": {"name": "rightSymbol"}, "transform": [{"filter": "datum.piece == 'sub'"}], "mark": {"type": "text", "align": "left", "baseline": "alphabetic", "font": "Liberation Serif", "fontSize": 30, "fontStyle": "italic", "fontWeight": "bold", "color": "black", "dx": -35, "dy": 7}}
      ]
    }
  ]
}
